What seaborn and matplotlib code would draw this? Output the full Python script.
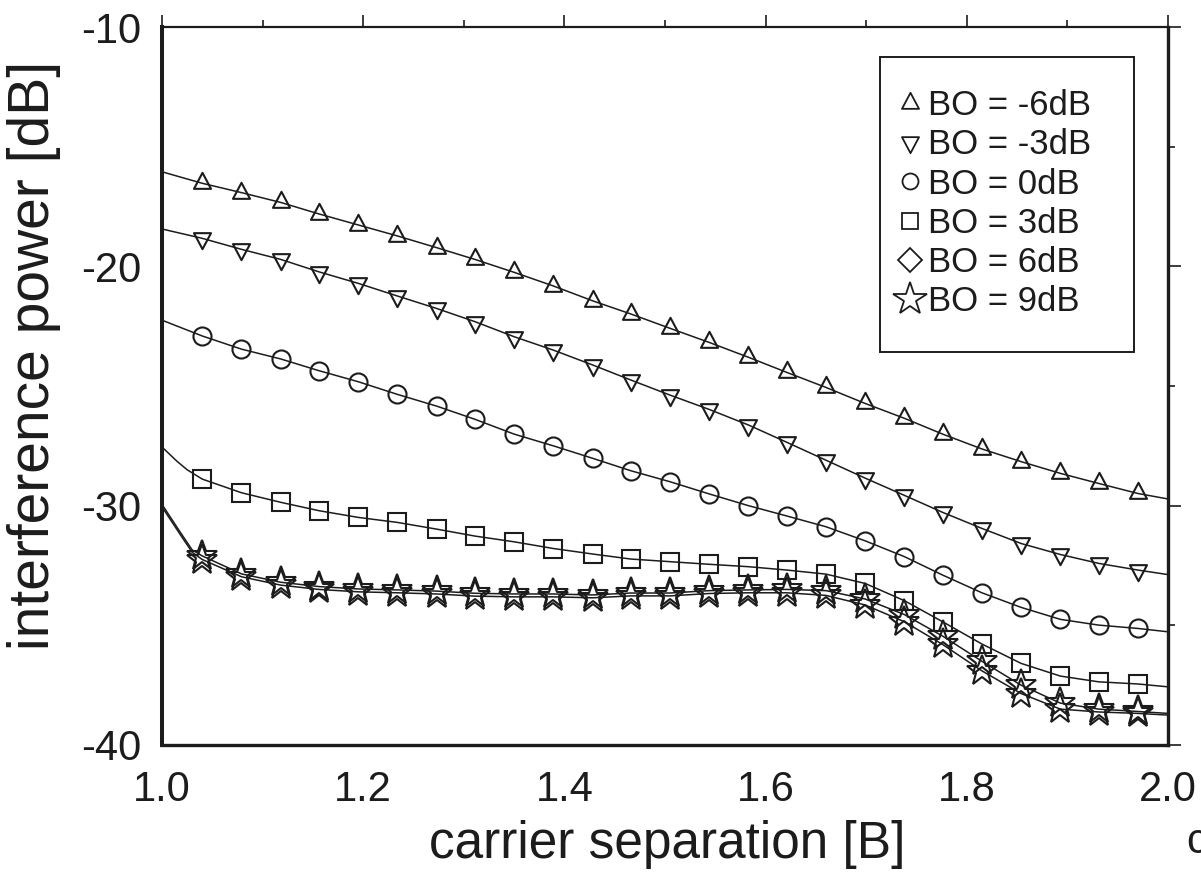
import matplotlib
matplotlib.use("Agg")
import matplotlib.pyplot as plt
import seaborn as sns
from matplotlib.path import Path
from matplotlib.lines import Line2D
from matplotlib.patches import Rectangle
from matplotlib.ticker import MultipleLocator

# ---------------- data ----------------
x_markers = [1.040, 1.079, 1.118, 1.156, 1.195, 1.234, 1.273, 1.311, 1.350,
             1.389, 1.428, 1.466, 1.505, 1.544, 1.583, 1.621, 1.660, 1.699,
             1.738, 1.776, 1.815, 1.854, 1.893, 1.931, 1.970]

labels = ["BO = -6dB", "BO = -3dB", "BO = 0dB", "BO = 3dB", "BO = 6dB", "BO = 9dB"]

bo_m6 = [-16.53, -16.92, -17.33, -17.81, -18.27, -18.73, -19.22, -19.71, -20.25,
         -20.82, -21.44, -21.99, -22.59, -23.18, -23.80, -24.43, -25.06, -25.73,
         -26.35, -27.01, -27.63, -28.16, -28.65, -29.07, -29.49]
bo_m3 = [-18.83, -19.29, -19.71, -20.23, -20.71, -21.24, -21.76, -22.31, -22.94,
         -23.50, -24.12, -24.75, -25.38, -25.98, -26.63, -27.35, -28.10, -28.85,
         -29.57, -30.28, -30.95, -31.58, -32.04, -32.41, -32.69]
bo_0 = [-22.91, -23.46, -23.87, -24.36, -24.82, -25.35, -25.84, -26.39, -27.01,
        -27.50, -28.02, -28.54, -29.00, -29.51, -30.00, -30.43, -30.88, -31.47,
        -32.13, -32.90, -33.64, -34.25, -34.75, -34.99, -35.13]
bo_3 = [-28.89, -29.46, -29.86, -30.21, -30.49, -30.70, -30.98, -31.27, -31.51,
        -31.79, -32.02, -32.23, -32.34, -32.45, -32.55, -32.69, -32.86, -33.25,
        -33.97, -34.85, -35.78, -36.59, -37.12, -37.36, -37.45]
bo_6 = [-32.10, -32.85, -33.20, -33.38, -33.48, -33.52, -33.57, -33.66, -33.69,
        -33.69, -33.73, -33.65, -33.65, -33.55, -33.52, -33.50, -33.55, -33.90,
        -34.55, -35.45, -36.50, -37.50, -38.25, -38.50, -38.60]
bo_9 = [-32.25, -32.97, -33.32, -33.50, -33.60, -33.64, -33.69, -33.78, -33.81,
        -33.81, -33.85, -33.77, -33.77, -33.67, -33.64, -33.64, -33.75, -34.15,
        -34.85, -35.80, -36.90, -37.85, -38.50, -38.62, -38.68]

# curve values at the left edge (x=1.0), near-edge points, and right edge (x=2.0)
x_left = [1.0]
x_right = [2.0]
x_near_sq = [1.015, 1.025]
x_near_st = [1.018, 1.030]
m6_left, m6_right = [-16.05], [-29.72]
m3_left, m3_right = [-18.44], [-32.88]
z0_left, z0_right = [-22.25], [-35.27]
p3_left, p3_near, p3_right = [-27.55], [-28.15, -28.50], [-37.57]
p6_left, p6_near, p6_right = [-29.95], [-31.10, -31.85], [-38.68]
p9_left, p9_near, p9_right = [-30.05], [-31.20, -31.95], [-38.75]

# ---------------- style ----------------
sns.set_theme(style="white")
plt.rcParams["font.family"] = ["Liberation Sans", "DejaVu Sans"]
plt.rcParams["axes.unicode_minus"] = False

INK = "#1c1c1c"

# centroid-centred triangles (like the reference)
tri_up = Path([(0, 10.67), (-8.5, -5.33), (8.5, -5.33), (0, 10.67)],
              [Path.MOVETO, Path.LINETO, Path.LINETO, Path.CLOSEPOLY])
tri_dn = Path([(0, -10.67), (-8.5, 5.33), (8.5, 5.33), (0, -10.67)],
              [Path.MOVETO, Path.LINETO, Path.LINETO, Path.CLOSEPOLY])

fig = plt.figure(figsize=(12.01, 8.74), dpi=100)
ax = fig.add_axes([0.1349, 0.1476, 0.8376, 0.8215])

series = [
    (x_left + x_markers + x_right, m6_left + bo_m6 + m6_right, bo_m6, tri_up, 15.4),
    (x_left + x_markers + x_right, m3_left + bo_m3 + m3_right, bo_m3, tri_dn, 15.4),
    (x_left + x_markers + x_right, z0_left + bo_0 + z0_right, bo_0, "o", 13),
    (x_left + x_near_sq + x_markers + x_right, p3_left + p3_near + bo_3 + p3_right, bo_3, "s", 13),
    (x_left + x_near_st + x_markers + x_right, p6_left + p6_near + bo_6 + p6_right, bo_6, "*", 23),
    (x_left + x_near_st + x_markers + x_right, p9_left + p9_near + bo_9 + p9_right, bo_9, "*", 23),
]

for xl, yl, ym, mk, ms in series:
    sns.lineplot(x=xl, y=yl, ax=ax, color=INK, linewidth=1.1, estimator=None,
                 sort=False, zorder=2)
for xl, yl, ym, mk, ms in series:
    sns.lineplot(x=x_markers, y=ym, ax=ax, color=INK, linestyle="none",
                 marker=mk, markersize=ms, markerfacecolor="none",
                 markeredgecolor=INK, markeredgewidth=1.5, estimator=None,
                 sort=False, zorder=3)

ax.set_xlim(1.0, 2.0)
ax.set_ylim(-40, -10)
ax.xaxis.set_major_locator(MultipleLocator(0.2))
ax.xaxis.set_minor_locator(MultipleLocator(0.1))
ax.yaxis.set_major_locator(MultipleLocator(10))
ax.yaxis.set_minor_locator(MultipleLocator(5))
ax.tick_params(which="both", direction="out", top=True, right=True,
               color=INK, width=1.2, labelcolor=INK)
ax.tick_params(which="major", length=9, labelsize=30)
ax.tick_params(axis="x", which="major", pad=9)
ax.tick_params(axis="y", which="major", pad=6)
ax.tick_params(which="minor", length=5)
ax.tick_params(axis="x", which="both", labeltop=False)
ax.tick_params(axis="y", which="both", labelright=False)

for side, lw in (("left", 2.9), ("bottom", 2.4), ("right", 2.4), ("top", 1.6)):
    ax.spines[side].set_visible(True)
    ax.spines[side].set_linewidth(lw)
    ax.spines[side].set_color(INK)

ax.set_xlabel("carrier separation [B]", fontsize=37, color=INK)
ax.xaxis.label.set_verticalalignment("baseline")
ax.set_ylabel("interference power [dB]", fontsize=41, color=INK)
ax.xaxis.set_label_coords(0.502, -0.158)
ax.yaxis.set_label_coords(-0.100, 0.543)

# legend (the 6 dB row shows a diamond, as in the reference)
leg_markers = [(tri_up, 15.4), (tri_dn, 15.4), ("o", 11.5), ("s", 12), ("D", 12.5), ("*", 25)]
handles = [Line2D([], [], linestyle="none", marker=m, markersize=s,
                  markerfacecolor="none", markeredgecolor=INK, markeredgewidth=1.3)
           for m, s in leg_markers]
leg = ax.legend(handles, labels, loc="upper left", bbox_to_anchor=(0.7266, 0.9135),
                fontsize=25, frameon=False, handlelength=1.0, handletextpad=0.0,
                labelspacing=0.18, borderpad=0, borderaxespad=0)
for t in leg.get_texts():
    t.set_color(INK)
ax.add_patch(Rectangle((0.7137, 0.547), 0.2525, 0.411, transform=ax.transAxes,
                       fill=False, edgecolor=INK, linewidth=1.4, zorder=5))

# partially visible label of the neighbouring panel
fig.text(1186 / 1201, 1 - 842 / 874, "c", fontsize=30, color=INK,
         ha="left", va="center")

fig.savefig("out.png", dpi=100, facecolor="white")
